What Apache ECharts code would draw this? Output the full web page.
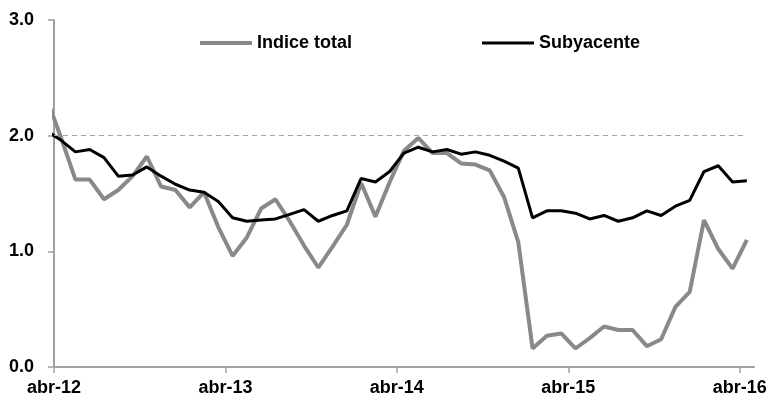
<!DOCTYPE html>
<html>
<head>
<meta charset="utf-8">
<script src="https://cdn.jsdelivr.net/npm/echarts@6/dist/echarts.min.js"></script>
<style>
html,body{margin:0;padding:0;background:#fff;}
#chart{width:774px;height:406px;}
</style>
</head>
<body>
<div id="chart"></div>
<script>
// Months: mar-12 (partly outside the axis, clipped) through abr-16
const months = ['mar-12','abr-12','may-12','jun-12','jul-12','ago-12','sep-12','oct-12','nov-12','dic-12',
 'ene-13','feb-13','mar-13','abr-13','may-13','jun-13','jul-13','ago-13','sep-13','oct-13','nov-13','dic-13',
 'ene-14','feb-14','mar-14','abr-14','may-14','jun-14','jul-14','ago-14','sep-14','oct-14','nov-14','dic-14',
 'ene-15','feb-15','mar-15','abr-15','may-15','jun-15','jul-15','ago-15','sep-15','oct-15','nov-15','dic-15',
 'ene-16','feb-16','mar-16','abr-16'];
const indiceTotal = [2.32,1.98,1.62,1.62,1.45,1.53,1.65,1.82,1.56,1.53,1.38,1.51,1.21,0.96,1.12,1.37,1.45,1.26,1.05,0.86,
 1.04,1.23,1.59,1.30,1.60,1.87,1.98,1.85,1.85,1.76,1.75,1.70,1.47,1.08,0.16,0.27,0.29,0.16,0.25,0.35,
 0.32,0.32,0.18,0.24,0.52,0.65,1.27,1.02,0.85,1.10];
const subyacente = [2.04,1.96,1.86,1.88,1.81,1.65,1.66,1.73,1.65,1.58,1.53,1.51,1.43,1.29,1.26,1.27,1.28,1.32,1.36,1.26,
 1.31,1.35,1.63,1.60,1.69,1.85,1.90,1.86,1.88,1.84,1.86,1.83,1.78,1.72,1.29,1.35,1.35,1.33,1.28,1.31,
 1.26,1.29,1.35,1.31,1.39,1.44,1.69,1.74,1.60,1.61];
const xTickLabels = ['abr-12','abr-13','abr-14','abr-15','abr-16'];
const yTickLabels = ['0.0','1.0','2.0','3.0'];
const target = 2.0;

// month position: start of abr-12 = 0, points at mid-month
const firstMonthOffset = -1; // mar-12 is one month before abr-12
const pos = months.map((m, i) => i + firstMonthOffset + 0.5);
const toPairs = arr => arr.map((v, i) => [pos[i], v]);

const FONT = "'Liberation Sans',Arial,sans-serif";

const chart = echarts.init(document.getElementById('chart'), null, {renderer: 'canvas'});
chart.setOption({
  animation: false,
  backgroundColor: '#ffffff',
  grid: {left: 54, right: 20, top: 20, bottom: 39, containLabel: false},
  legend: [
    {data: ['Indice total'], left: 200, top: 34, padding: 0, itemWidth: 52, itemHeight: 4, icon: 'rect',
     itemGap: 5,
     textStyle: {fontFamily: FONT, fontWeight: 'bold', fontSize: 18, color: '#000'}},
    {data: ['Subyacente'], left: 482, top: 34, padding: 0, itemWidth: 52, itemHeight: 3, icon: 'rect',
     textStyle: {fontFamily: FONT, fontWeight: 'bold', fontSize: 18, color: '#000'}}
  ],
  xAxis: {
    type: 'value', min: 0, max: 49, interval: 12,
    splitLine: {show: false},
    axisLine: {show: true, onZero: false, lineStyle: {color: '#a0a0a0', width: 2}},
    axisTick: {show: true, length: 6, lineStyle: {color: '#a0a0a0', width: 1.5},
               customValues: xTickLabels.map((t, i) => i * 12)},
    axisLabel: {
      customValues: xTickLabels.map((t, i) => i * 12),
      formatter: v => xTickLabels[Math.round(v / 12)] || '',
      margin: 12, fontFamily: FONT, fontWeight: 'bold', fontSize: 18, color: '#000'
    }
  },
  yAxis: {
    type: 'value', min: 0, max: 3, interval: 1,
    splitLine: {show: false},
    axisLine: {show: true, lineStyle: {color: '#a0a0a0', width: 2}},
    axisTick: {show: true, length: 6, lineStyle: {color: '#a0a0a0', width: 1.5}},
    axisLabel: {
      formatter: v => yTickLabels[Math.round(v)],
      margin: 20, fontFamily: FONT, fontWeight: 'bold', fontSize: 18, color: '#000'
    }
  },
  series: [
    {
      name: 'Indice total', type: 'line', data: toPairs(indiceTotal),
      showSymbol: false, symbol: 'none', clip: true,
      lineStyle: {color: '#898989', width: 4},
      itemStyle: {color: '#898989'},
      z: 2
    },
    {
      name: 'Subyacente', type: 'line', data: toPairs(subyacente),
      showSymbol: false, symbol: 'none', clip: true,
      lineStyle: {color: '#000000', width: 3},
      itemStyle: {color: '#000000'},
      z: 3,
      markLine: {
        silent: true, symbol: 'none', label: {show: false},
        lineStyle: {color: '#a6a6a6', type: [5, 4], width: 1.2},
        data: [[{xAxis: 0, yAxis: target}, {xAxis: pos[pos.length - 1], yAxis: target}]]
      }
    }
  ]
});
</script>
</body>
</html>
